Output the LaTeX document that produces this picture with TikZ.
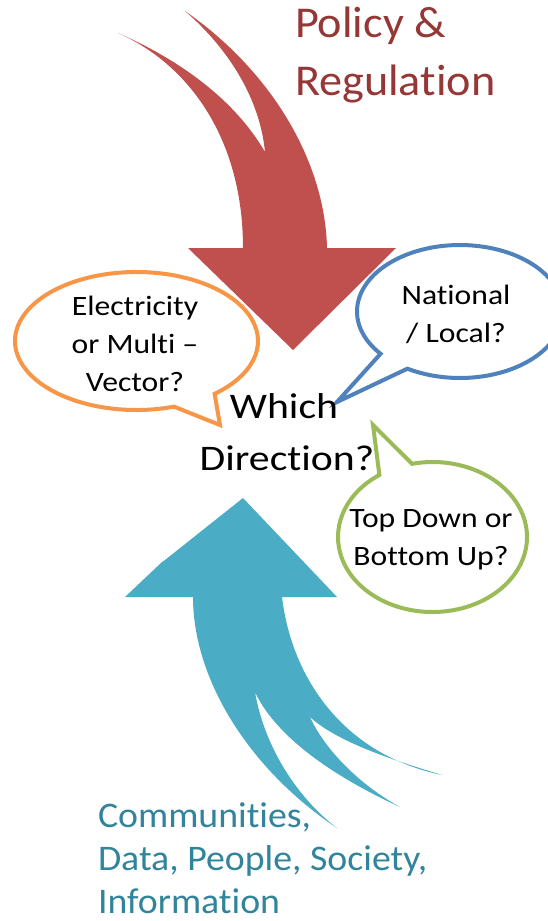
\documentclass[tikz,border=0pt]{standalone}
\usepackage{fontspec}
\setmainfont{Carlito}[Ligatures={TeX,NoCommon}]
\newfontfamily\bubblefont{Carlito}[FakeStretch=1.13, Ligatures={TeX,NoCommon}]
\newfontfamily\whichfont{Carlito}[FakeStretch=1.16, Ligatures={TeX,NoCommon}]
\newfontfamily\titlefont{Carlito}[FakeStretch=1.05, Ligatures={TeX,NoCommon}]
\definecolor{polred}{HTML}{C0504D}
\definecolor{poltext}{HTML}{953735}
\definecolor{comblue}{HTML}{4BACC6}
\definecolor{comtext}{HTML}{31849B}
\definecolor{qorange}{HTML}{F79646}
\definecolor{qblue}{HTML}{4F81BD}
\definecolor{qgreen}{HTML}{9BBB59}
\tikzset{
	every node/.style = {
		inner sep=0pt,
		outer sep=0pt
	},
	bubble/.style = {line width=4, fill=white, line join=miter},
	bubbletext/.style = {align=center, font=\bubblefont\fontsize{28}{38}\selectfont},
	redtitle/.style = {anchor=base west, text=poltext, font=\titlefont\fontsize{44}{58}\selectfont},
	bluetitle/.style = {anchor=base west, text=comtext, font=\titlefont\fontsize{36}{43}\selectfont},
	centretext/.style = {anchor=base, font=\whichfont\fontsize{36}{51}\selectfont}
}

\begin{document}
\begin{tikzpicture}[x=1pt, y=-1pt]
	\useasboundingbox (0,0) rectangle (548,921);
	% downward arrow
	\fill[polred] (243,248) -- (188,248) -- (293,350) -- (396,248) -- (327,248)
		.. controls (325,160) and (270,70) .. (185,11)
		.. controls (230,50) and (260,100) .. (265,152)
		.. controls (235,100) and (180,60) .. (118,33)
		.. controls (190,65) and (243,140) .. (243,248) -- cycle;
	% upward arrow
	\fill[comblue] (193,597) -- (125,597) -- (162,562) -- (165,560) -- (243,498) -- (337,597) -- (282,597)
		.. controls (292,680) and (345,755) .. (442,775)
		.. controls (410,765) and (340,745) .. (310,717)
		.. controls (325,750) and (360,785) .. (400,807)
		.. controls (330,775) and (275,735) .. (255,692)
		.. controls (265,750) and (300,800) .. (337,828)
		.. controls (250,770) and (193,680) .. (193,597) -- cycle;
	% callouts
	\coordinate (elec) at (136.5,341);
	\coordinate (electip) at (220,425);
	\draw[bubble, draw=qorange] (elec) ++(72:121.5 and 69)
		arc[start angle=72, end angle=410, x radius=121.5, y radius=69] -- (electip) -- cycle;
	\coordinate (nat) at (460,311.5);
	\coordinate (nattip) at (337,402);
	\draw[bubble, draw=qblue] (nat) ++(140.5:103 and 66.5)
		arc[start angle=140.5, end angle=480.7, x radius=103, y radius=66.5] -- (nattip) -- cycle;
	\coordinate (topd) at (432.5,537);
	\coordinate (topdtip) at (373,425);
	\draw[bubble, draw=qgreen] (topd) ++(257.5:94.5 and 75)
		arc[start angle=257.5, end angle=595.8, x radius=94.5, y radius=75] -- (topdtip) -- cycle;
	\node[bubbletext] (electext) at (135,344) {Electricity\\or Multi –\\Vector?};
	\node[bubbletext] (nattext) at (456,314) {National\\/ Local?};
	\node[bubbletext] (topdtext) at (431,540) {Top Down or\\Bottom Up?};
	% labels
	\node[centretext] (which) at (284,418) {Which};
	\node[centretext] (direction) at (287,470) {Direction?};
	\node[redtitle] (policy) at (295,37) {Policy \&};
	\node[redtitle] (regulation) at (295,95) {Regulation};
	\node[bluetitle] (communities) at (98,827) {Communities,};
	\node[bluetitle] (data) at (98,870) {Data, People, Society,};
	\node[bluetitle] (information) at (98,913) {Information};
\end{tikzpicture}
\end{document}
